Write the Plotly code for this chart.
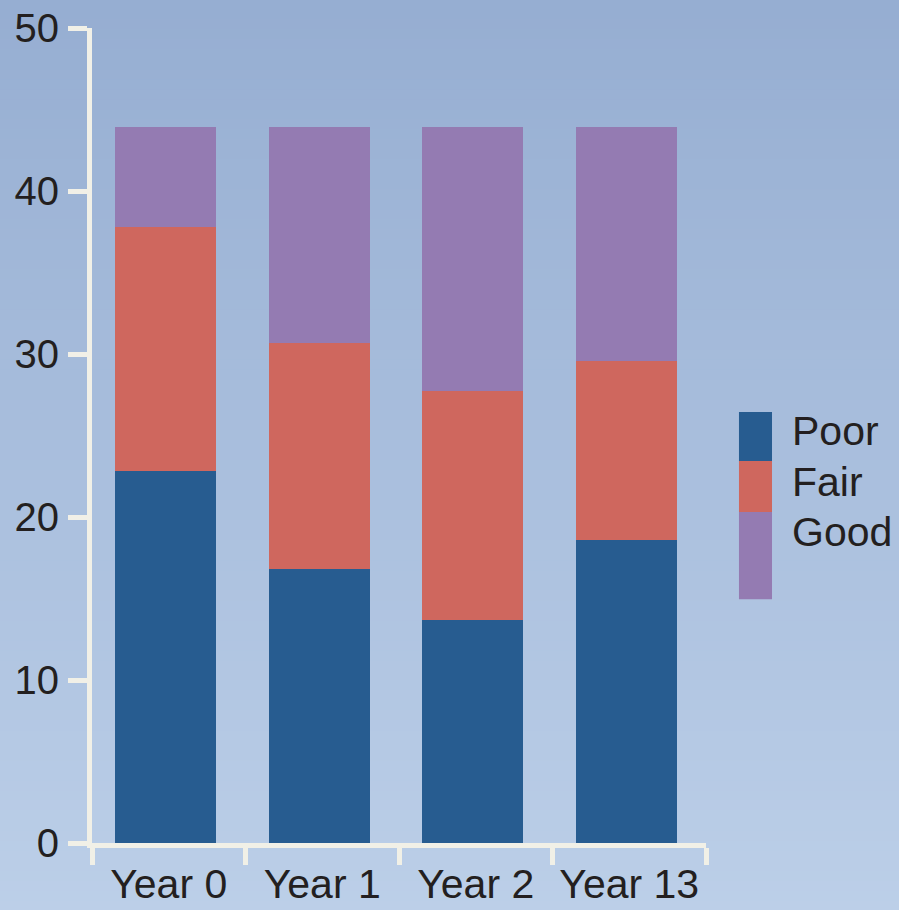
import plotly.graph_objects as go

# Condition counts by survey year
years = ["Year 0", "Year 1", "Year 2", "Year 13"]
poor = [22.8, 16.8, 13.7, 18.6]
fair = [15.0, 13.9, 14.0, 11.0]
good = [6.1, 13.2, 16.2, 14.3]

series_names = ["Poor", "Fair", "Good"]
series_colors = ["#275c90", "#cf675e", "#947bb2"]

y_ticks = [0, 10, 20, 30, 40, 50]

axis_color = "#f1f0e7"
text_color = "#231f20"
font_family = "Liberation Sans, Arial, sans-serif"

fig = go.Figure()
for name, vals, col in zip(series_names, [poor, fair, good], series_colors):
    fig.add_trace(go.Bar(x=years, y=vals, name=name, width=0.658, offset=-0.347,
                         marker=dict(color=col, line=dict(width=0)), showlegend=False))

# Vertical background gradient drawn as thin strips behind everything
top_rgb = (0x95, 0xad, 0xd1)
bot_rgb = (0xbd, 0xd0, 0xe9)
n_strips = 96
y_lo, y_hi = -0.12, 1.06
shapes = []
for i in range(n_strips):
    t = i / (n_strips - 1)
    r, g, b = [round(bot + (top - bot) * t) for top, bot in zip(top_rgb, bot_rgb)]
    y0 = y_lo + (y_hi - y_lo) * i / n_strips
    y1 = y_lo + (y_hi - y_lo) * (i + 1) / n_strips + 0.002
    shapes.append(dict(type="rect", xref="paper", yref="paper", x0=-0.2, x1=1.4, y0=y0, y1=y1,
                       fillcolor=f"rgb({r},{g},{b})", line=dict(width=0), layer="below"))

# Stacked colour-block legend on the right
sw_x0, sw_x1 = 1.0537, 1.1075
sw_edges = [0.5287, 0.4686, 0.4060, 0.2992]
label_y = [0.5053, 0.4429, 0.3814]
annotations = []
for i, (name, col) in enumerate(zip(series_names, series_colors)):
    shapes.append(dict(type="rect", xref="paper", yref="paper", x0=sw_x0, x1=sw_x1,
                       y0=sw_edges[i + 1], y1=sw_edges[i], fillcolor=col, line=dict(width=0)))
    annotations.append(dict(xref="paper", yref="paper", x=1.1365, y=label_y[i], text=name,
                            showarrow=False, xanchor="left", yanchor="middle",
                            font=dict(size=41, color=text_color, family=font_family)))

fig.update_layout(
    width=899, height=910,
    margin=dict(l=92, r=193, t=28, b=67),
    barmode="stack",
    paper_bgcolor="#aabfdd",
    plot_bgcolor="rgba(0,0,0,0)",
    font=dict(family=font_family, size=40, color=text_color),
    shapes=shapes,
    annotations=annotations,
    showlegend=False,
)
fig.update_xaxes(
    type="category", range=[-0.5, 3.5], tickson="boundaries", automargin=False,
    showline=True, linecolor=axis_color, linewidth=5, tickangle=0,
    ticks="outside", ticklen=17, tickwidth=5, tickcolor=axis_color,
    showgrid=False, zeroline=False, ticklabelstandoff=1,
    tickfont=dict(size=41, color=text_color),
)
fig.update_yaxes(
    range=[0, 50], tickvals=y_ticks, ticktext=[str(v) for v in y_ticks], automargin=False,
    showline=True, linecolor=axis_color, linewidth=5,
    ticks="outside", ticklen=19, tickwidth=5, tickcolor=axis_color,
    showgrid=False, zeroline=False, ticklabelstandoff=1,
    tickfont=dict(size=40, color=text_color),
)

fig.write_html("out.html")
